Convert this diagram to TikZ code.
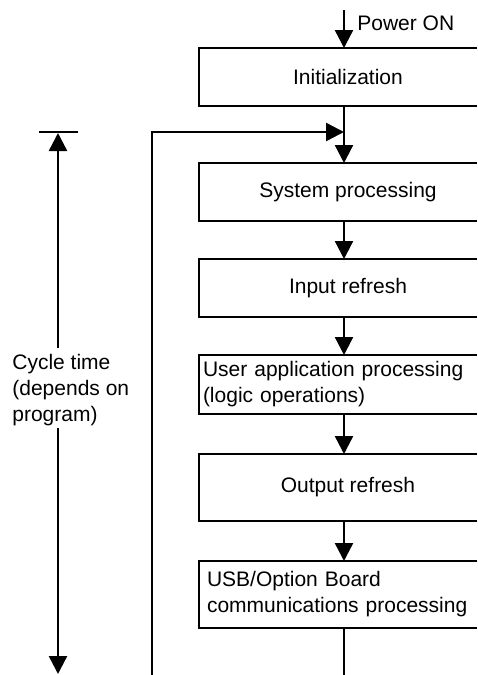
\documentclass[tikz,border=0pt]{standalone}
\usepackage{fontspec}
\setmainfont{Liberation Sans}
\usepackage{tikz}
\usetikzlibrary{positioning,arrows.meta}

\begin{document}
\begin{tikzpicture}[
  x=0.5pt, y=-0.5pt,
  font=\fontsize{10.5}{13}\selectfont,
  box/.style={outer sep=0pt, inner sep=0pt, align=center, minimum width=129pt, minimum height=29pt},
  lbox/.style={box, anchor=west, align=left, minimum width=0pt, text width=137pt},
  boxline/.style={line width=0.75pt},
  arr/.style={line width=1.2pt, -{Triangle[length=9pt, width=9pt]}},
  line/.style={line width=1.2pt},
  lbl/.style={inner sep=0pt, align=left}
]
\path[use as bounding box] (0,0) rectangle (477,675);
\coordinate (lx) at (199,0);
\coordinate (ax) at (344,0);
% main flow
\node[box] (init) at (348,77) {Initialization};
\node[box] (sys) at (348,192) {System processing};
\node[box] (inref) at (348,288) {Input refresh};
\node[lbox, minimum height=29.5pt] (user) at (203,384.5) {User application processing\\(logic operations)};
\node[box, minimum height=33.5pt] (outref) at (348,487.5) {Output refresh};
\node[lbox, minimum height=33.5pt, text width=135pt] (usb) at (207,594.5) {USB/Option Board\\communications processing};
\foreach \n in {init,sys,inref,user,outref,usb}
  \draw[boxline] (\n.north east) -- (\n.north -| lx) -- (\n.south -| lx) -- (\n.south east);

\node[lbl, anchor=west] (pwron) at (357,23) {Power ON};

\draw[arr] (ax |- 0,10) -- (init.north -| ax);
\draw[arr] (init.south -| ax) -- (sys.north -| ax);
\draw[arr] (sys.south -| ax) -- (inref.north -| ax);
\draw[arr] (inref.south -| ax) -- (user.north -| ax);
\draw[arr] (user.south -| ax) -- (outref.north -| ax);
\draw[arr] (outref.south -| ax) -- (usb.north -| ax);
\draw[line] (usb.south -| ax) -- (ax |- 0,675);

% loop back
\coordinate (lp) at (152,675);
\coordinate (jn) at (344,132);
\draw[arr] (lp) |- (jn);

% cycle time
\coordinate (barl) at (39,132);
\coordinate (barr) at (78,132);
\coordinate (ctop) at (58,133);
\coordinate (cup) at (58,348);
\coordinate (cdn) at (58,428);
\coordinate (cbot) at (58,674);
\node[lbl, anchor=west] (cyc) at (12,390) {Cycle time\\(depends on\\program)};
\draw[line] (barl) -- (barr);
\draw[arr] (cup) -- (ctop);
\draw[arr] (cdn) -- (cbot);
\end{tikzpicture}
\end{document}
